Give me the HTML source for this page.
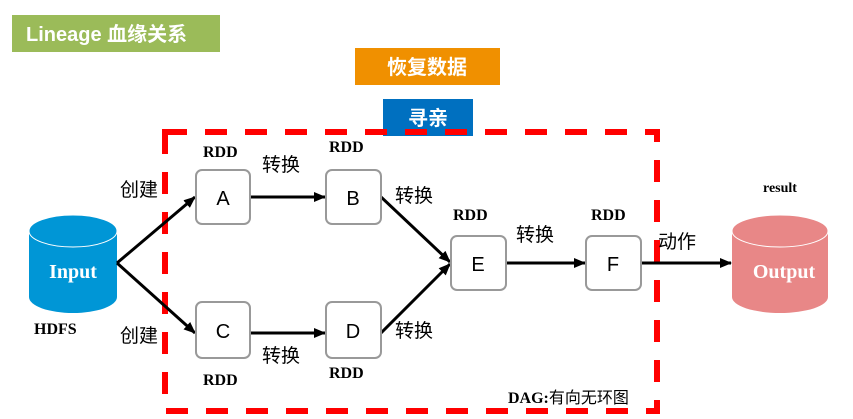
<!DOCTYPE html>
<html><head><meta charset="utf-8"><style>
body{margin:0;background:#fff;}
svg{display:block}
.cj{font-family:"Liberation Sans","Noto Sans CJK SC",sans-serif;}
.sf{font-family:"Liberation Serif","Noto Serif CJK SC",serif;font-weight:bold;}
</style></head><body>
<svg width="853" height="419" viewBox="0 0 853 419" xmlns="http://www.w3.org/2000/svg">
<defs><marker id="ar" markerWidth="12" markerHeight="10" refX="11" refY="5" orient="auto" markerUnits="userSpaceOnUse"><path d="M0,0 L12,5 L0,10 Z" fill="#000"/></marker></defs>
<rect x="12" y="15" width="208" height="37" fill="#9bbb59"/>
<text x="26" y="41" class="cj" font-size="20" font-weight="bold" fill="#fff">Lineage 血缘关系</text>
<rect x="355" y="48" width="145" height="37" fill="#f09000"/>
<text x="427" y="74" class="cj" font-size="20" font-weight="bold" fill="#fff" text-anchor="middle">恢复数据</text>
<rect x="383" y="99" width="90" height="37" fill="#0070c0"/>
<text x="428" y="125" class="cj" font-size="20" font-weight="bold" fill="#fff" text-anchor="middle">寻亲</text>
<rect x="165" y="132" width="492" height="279" fill="none" stroke="#ff0000" stroke-width="6" stroke-dasharray="22,18"/>
<path d="M29,231 L29,297 A44,16 0 0 0 117,297 L117,231 Z" fill="#0096d6"/>
<ellipse cx="73" cy="231" rx="44" ry="16" fill="#0096d6" stroke="#fff" stroke-width="1"/>
<text x="73" y="278" class="sf" font-size="20" fill="#fff" text-anchor="middle">Input</text>
<text x="34" y="334" class="sf" font-size="16" fill="#000">HDFS</text>
<path d="M732,231 L732,297 A48,16 0 0 0 828,297 L828,231 Z" fill="#e88787"/>
<ellipse cx="780" cy="231" rx="48" ry="16" fill="#e88787" stroke="#fff" stroke-width="1"/>
<text x="784" y="278" class="sf" font-size="20" fill="#fff" text-anchor="middle">Output</text>
<text x="763" y="192" class="sf" font-size="14" fill="#000">result</text>
<g stroke="#000" stroke-width="3" fill="none" marker-end="url(#ar)">
<line x1="117" y1="263" x2="195" y2="197"/>
<line x1="117" y1="263" x2="195" y2="333"/>
<line x1="250" y1="197" x2="325" y2="197"/>
<line x1="250" y1="333" x2="325" y2="333"/>
<line x1="381" y1="197" x2="450" y2="262"/>
<line x1="381" y1="333" x2="450" y2="264"/>
<line x1="506" y1="263" x2="585" y2="263"/>
<line x1="641" y1="263" x2="731" y2="263"/>
</g>
<g fill="#fff" stroke="#999" stroke-width="2">
<rect x="196" y="170" width="54" height="54" rx="6"/>
<rect x="326" y="170" width="55" height="54" rx="6"/>
<rect x="196" y="302" width="54" height="56" rx="6"/>
<rect x="326" y="302" width="55" height="56" rx="6"/>
<rect x="451" y="236" width="55" height="54" rx="6"/>
<rect x="586" y="236" width="55" height="54" rx="6"/>
</g>
<g class="cj" font-size="20" fill="#000" text-anchor="middle">
<text x="223" y="205">A</text><text x="353" y="205">B</text>
<text x="223" y="338">C</text><text x="353" y="338">D</text>
<text x="478" y="271">E</text><text x="613" y="271">F</text>
</g>
<g class="cj" font-size="19" fill="#000">
<text x="120" y="196">创建</text><text x="120" y="342">创建</text>
<text x="262" y="171">转换</text><text x="395" y="202">转换</text>
<text x="262" y="362">转换</text><text x="395" y="337">转换</text>
<text x="516" y="241">转换</text><text x="658" y="248">动作</text>
</g>
<g class="sf" font-size="16" fill="#000">
<text x="203" y="157">RDD</text><text x="329" y="152">RDD</text>
<text x="203" y="385">RDD</text><text x="329" y="378">RDD</text>
<text x="453" y="220">RDD</text><text x="591" y="220">RDD</text>
<text x="508" y="403">DAG:<tspan font-family="Noto Sans CJK SC" font-weight="normal" font-size="16">有向无环图</tspan></text>
</g>
</svg>
</body></html>
